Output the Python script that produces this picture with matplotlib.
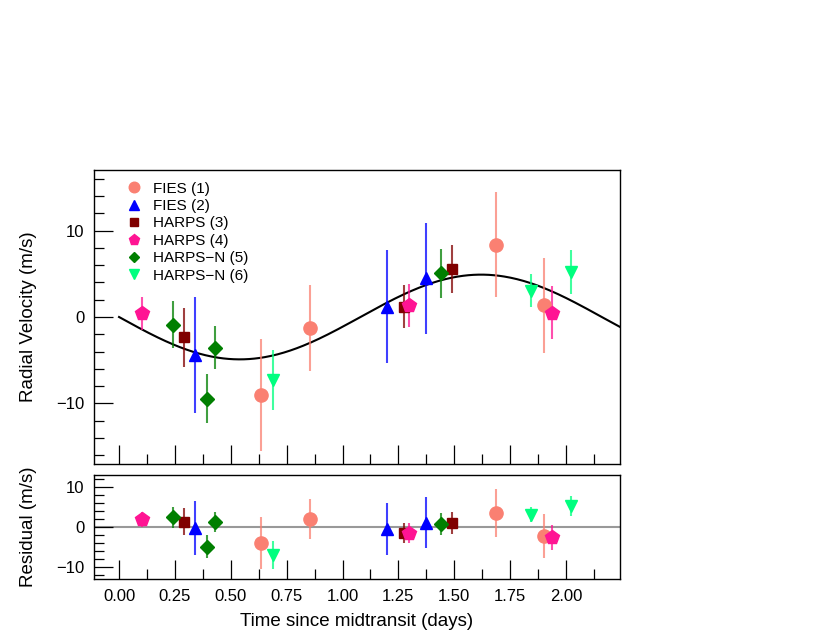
import numpy as np
import matplotlib
matplotlib.use("Agg")
import matplotlib.pyplot as plt
from matplotlib.lines import Line2D

plt.rcParams['font.family'] = ['Liberation Sans', 'DejaVu Sans']

# Data (time since midtransit in days, RV in m/s)
fies1_t = [0.634, 0.856, 1.685, 1.902]
fies1_rv = [-9.05, -1.29, 8.36, 1.33]
fies1_err = [6.46, 4.94, 6.06, 5.54]
fies1_res = [-4.05, 2.0, 3.5, -2.2]

fies2_t = [0.341, 1.201, 1.372]
fies2_rv = [-4.36, 1.2, 4.48]
fies2_err = [6.7, 6.54, 6.44]
fies2_res = [-0.2, -0.5, 1.1]

harps3_t = [0.289, 1.277, 1.49]
harps3_rv = [-2.36, 1.21, 5.52]
harps3_err = [3.37, 2.48, 2.75]
harps3_res = [1.3, -1.6, 1.1]

harps4_t = [0.101, 1.298, 1.936]
harps4_rv = [0.44, 1.33, 0.48]
harps4_err = [1.9, 2.48, 3.06]
harps4_res = [1.9, -1.4, -2.6]

harpsn5_t = [0.243, 0.394, 0.431, 1.439]
harpsn5_rv = [-0.87, -9.44, -3.55, 5.05]
harpsn5_err = [2.69, 2.79, 2.48, 2.85]
harpsn5_res = [2.4, -4.9, 1.2, 0.75]

harpsn6_t = [0.690, 1.842, 2.022]
harpsn6_rv = [-7.32, 3.06, 5.17]
harpsn6_err = [3.48, 1.92, 2.54]
harpsn6_res = [-7.1, 3.1, 5.3]

# circular orbit model
K_amp = 4.9
period = 2.16

series = [
    ('FIES (1)', fies1_t, fies1_rv, fies1_err, fies1_res, '#FA8072', 'o', 9.5),
    ('FIES (2)', fies2_t, fies2_rv, fies2_err, fies2_res, '#0000FF', '^', 9),
    ('HARPS (3)', harps3_t, harps3_rv, harps3_err, harps3_res, '#800000', 's', 6.5),
    ('HARPS (4)', harps4_t, harps4_rv, harps4_err, harps4_res, '#FF1493', 'p', 10),
    ('HARPS\u2212N (5)', harpsn5_t, harpsn5_rv, harpsn5_err, harpsn5_res, '#007F00', 'D', 7),
    ('HARPS\u2212N (6)', harpsn6_t, harpsn6_rv, harpsn6_err, harpsn6_res, '#00FF7F', 'v', 9),
]

fig = plt.figure(figsize=(8.32, 6.43), dpi=100)
ax = fig.add_axes([0.113, 0.2784, 0.6318, 0.4572])
axr = fig.add_axes([0.113, 0.0995, 0.6318, 0.1618])

tm = np.linspace(0, 2.3, 400)
ax.plot(tm, -K_amp * np.sin(2 * np.pi * tm / period), color='black', lw=1.5, zorder=1)
axr.axhline(0, color='#999999', lw=1.5, zorder=1)

handles = []
for label, t, rv, err, res, col, mk, ms in series:
    ax.errorbar(t, rv, yerr=err, fmt='none', ecolor=col, elinewidth=1.5, alpha=0.75, zorder=2)
    ax.plot(t, rv, linestyle='none', marker=mk, color=col, markersize=ms, zorder=3)
    axr.errorbar(t, res, yerr=err, fmt='none', ecolor=col, elinewidth=1.5, alpha=0.75, zorder=2)
    axr.plot(t, res, linestyle='none', marker=mk, color=col, markersize=ms, zorder=3)
    handles.append(Line2D([], [], linestyle='none', marker=mk, color=col,
                          markersize=ms * 0.8, label=label))

ax.legend(handles=handles, loc='upper left', bbox_to_anchor=(0.055, 0.96),
          frameon=False, fontsize=11, handlelength=1.5, handletextpad=0.5,
          labelspacing=0.22, borderaxespad=0, borderpad=0)

xmaj = np.arange(0, 2.01, 0.25)
xmin = np.arange(0.125, 2.2, 0.25)
for a in (ax, axr):
    a.set_xlim(-0.112, 2.24)
    a.set_xticks(xmaj)
    a.set_xticks(xmin, minor=True)
    a.tick_params(which='both', direction='in', top=False, right=False, width=0.9,
                  labelsize=12, pad=7)
    a.tick_params(which='major', length=13.5)
    a.tick_params(which='minor', length=7.5)
    for s in a.spines.values():
        s.set_linewidth(1.0)

ax.set_ylim(-17, 17)
ax.set_yticks([-10, 0, 10])
ax.set_yticks(np.arange(-16, 17, 2), minor=True)
ax.set_xticklabels([])
ax.set_ylabel('Radial Velocity (m/s)', fontsize=13.5)
ax.yaxis.set_label_coords(-0.108, 0.5)

axr.set_ylim(-13, 13)
axr.set_yticks([-10, 0, 10])
axr.set_yticks(np.arange(-12, 13, 2), minor=True)
axr.set_xticklabels([f'{v:.2f}' for v in xmaj])
axr.set_ylabel('Residual (m/s)', fontsize=13.5)
axr.yaxis.set_label_coords(-0.108, 0.5)
axr.set_xlabel('Time since midtransit (days)', fontsize=13.5, labelpad=7)

fig.savefig('out.png', dpi=100)
